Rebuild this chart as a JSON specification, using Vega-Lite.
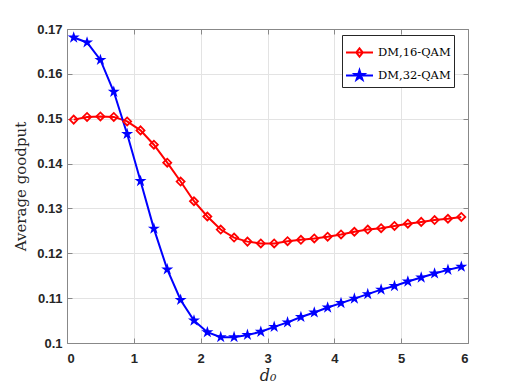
{
  "$schema": "https://vega.github.io/schema/vega-lite/v6.json",
  "width": 401,
  "height": 314,
  "autosize": {"type": "none"},
  "padding": {"left": 67, "top": 29, "right": 50, "bottom": 45},
  "background": "white",
  "config": {
    "view": {"stroke": "#888", "strokeWidth": 1},
    "axis": {"domainColor": "#888", "tickColor": "#888", "gridColor": "#e3e3e3", "gridWidth": 1, "labelFont": "Liberation Sans", "labelFontWeight": "bold", "labelFontSize": 13, "labelColor": "#262626", "titleFont": "DejaVu Serif", "titleFontWeight": "normal", "titleFontSize": 15, "titleColor": "#262626"}
  },
  "data": {"values": [
    {"d": 0.1, "s": "DM,16-QAM", "g": 0.1498}, {"d": 0.3, "s": "DM,16-QAM", "g": 0.1504}, {"d": 0.5, "s": "DM,16-QAM", "g": 0.1505}, {"d": 0.7, "s": "DM,16-QAM", "g": 0.1504}, {"d": 0.9, "s": "DM,16-QAM", "g": 0.1494},
    {"d": 1.1, "s": "DM,16-QAM", "g": 0.1474}, {"d": 1.3, "s": "DM,16-QAM", "g": 0.1442}, {"d": 1.5, "s": "DM,16-QAM", "g": 0.1402}, {"d": 1.7, "s": "DM,16-QAM", "g": 0.1360}, {"d": 1.9, "s": "DM,16-QAM", "g": 0.1316},
    {"d": 2.1, "s": "DM,16-QAM", "g": 0.1282}, {"d": 2.3, "s": "DM,16-QAM", "g": 0.1253}, {"d": 2.5, "s": "DM,16-QAM", "g": 0.1235}, {"d": 2.7, "s": "DM,16-QAM", "g": 0.1226}, {"d": 2.9, "s": "DM,16-QAM", "g": 0.1222},
    {"d": 3.1, "s": "DM,16-QAM", "g": 0.1222}, {"d": 3.3, "s": "DM,16-QAM", "g": 0.1227}, {"d": 3.5, "s": "DM,16-QAM", "g": 0.1230}, {"d": 3.7, "s": "DM,16-QAM", "g": 0.1233}, {"d": 3.9, "s": "DM,16-QAM", "g": 0.1237},
    {"d": 4.1, "s": "DM,16-QAM", "g": 0.1242}, {"d": 4.3, "s": "DM,16-QAM", "g": 0.1248}, {"d": 4.5, "s": "DM,16-QAM", "g": 0.1253}, {"d": 4.7, "s": "DM,16-QAM", "g": 0.1256}, {"d": 4.9, "s": "DM,16-QAM", "g": 0.1261},
    {"d": 5.1, "s": "DM,16-QAM", "g": 0.1266}, {"d": 5.3, "s": "DM,16-QAM", "g": 0.1270}, {"d": 5.5, "s": "DM,16-QAM", "g": 0.1274}, {"d": 5.7, "s": "DM,16-QAM", "g": 0.1277}, {"d": 5.9, "s": "DM,16-QAM", "g": 0.1281},
    {"d": 0.1, "s": "DM,32-QAM", "g": 0.1681}, {"d": 0.3, "s": "DM,32-QAM", "g": 0.1670}, {"d": 0.5, "s": "DM,32-QAM", "g": 0.1631}, {"d": 0.7, "s": "DM,32-QAM", "g": 0.1560}, {"d": 0.9, "s": "DM,32-QAM", "g": 0.1466},
    {"d": 1.1, "s": "DM,32-QAM", "g": 0.1361}, {"d": 1.3, "s": "DM,32-QAM", "g": 0.1255}, {"d": 1.5, "s": "DM,32-QAM", "g": 0.1164}, {"d": 1.7, "s": "DM,32-QAM", "g": 0.1096}, {"d": 1.9, "s": "DM,32-QAM", "g": 0.1050},
    {"d": 2.1, "s": "DM,32-QAM", "g": 0.1024}, {"d": 2.3, "s": "DM,32-QAM", "g": 0.1013}, {"d": 2.5, "s": "DM,32-QAM", "g": 0.1013}, {"d": 2.7, "s": "DM,32-QAM", "g": 0.1018}, {"d": 2.9, "s": "DM,32-QAM", "g": 0.1025},
    {"d": 3.1, "s": "DM,32-QAM", "g": 0.1036}, {"d": 3.3, "s": "DM,32-QAM", "g": 0.1046}, {"d": 3.5, "s": "DM,32-QAM", "g": 0.1058}, {"d": 3.7, "s": "DM,32-QAM", "g": 0.1068}, {"d": 3.9, "s": "DM,32-QAM", "g": 0.1079},
    {"d": 4.1, "s": "DM,32-QAM", "g": 0.1089}, {"d": 4.3, "s": "DM,32-QAM", "g": 0.1099}, {"d": 4.5, "s": "DM,32-QAM", "g": 0.1109}, {"d": 4.7, "s": "DM,32-QAM", "g": 0.1119}, {"d": 4.9, "s": "DM,32-QAM", "g": 0.1127},
    {"d": 5.1, "s": "DM,32-QAM", "g": 0.1137}, {"d": 5.3, "s": "DM,32-QAM", "g": 0.1146}, {"d": 5.5, "s": "DM,32-QAM", "g": 0.1155}, {"d": 5.7, "s": "DM,32-QAM", "g": 0.1163}, {"d": 5.9, "s": "DM,32-QAM", "g": 0.1170}
  ]},
  "resolve": {"axis": {"x": "independent", "y": "independent"}},
  "layer": [
    {
      "mark": {"type": "line", "strokeWidth": 2},
      "encoding": {
        "x": {"field": "d", "type": "quantitative", "scale": {"domain": [0, 6], "nice": false},
              "axis": {"values": [0,1,2,3,4,5,6], "format": "d", "tickSize": -5, "labelPadding": 14, "title": "d₀", "titleFontStyle": "italic", "titleFontSize": 16, "titlePadding": 2}},
        "y": {"field": "g", "type": "quantitative", "scale": {"domain": [0.1, 0.17], "nice": false, "zero": false},
              "axis": {"values": [0.1,0.11,0.12,0.13,0.14,0.15,0.16,0.17], "format": ".2~f", "tickSize": -5, "labelPadding": 10, "title": "Average goodput", "titlePadding": 8}},
        "color": {"field": "s", "type": "nominal", "scale": {"domain": ["DM,16-QAM", "DM,32-QAM"], "range": ["#ff0000", "#0000ff"]},
          "legend": {"title": null, "orient": "none", "legendX": 275, "legendY": 6, "fillColor": "white", "strokeColor": "#262626", "padding": 3, "labelFont": "DejaVu Serif", "labelFontSize": 11.5, "labelColor": "#000", "labelOffset": 4, "rowPadding": -10, "symbolSize": 729, "symbolStrokeWidth": 2,
            "encode": {
              "symbols": {"update": {
              "shape": {"signal": "datum.value === 'DM,16-QAM' ? 'M-1,0H1M0,-0.3L0.24,0L0,0.3L-0.24,0Z' : 'M-1,0H1M0,-0.38L0.084,-0.117L0.354,-0.117L0.135,0.044L0.219,0.301L0,0.142L-0.219,0.301L-0.135,0.044L-0.354,-0.117L-0.084,-0.117Z'"},
              "fill": {"signal": "datum.value === 'DM,16-QAM' ? 'white' : '#0000ff'"},
              "fillOpacity": {"value": 1},
              "stroke": {"signal": "datum.value === 'DM,16-QAM' ? '#ff0000' : '#0000ff'"},
              "strokeWidth": {"value": 2}
            }}}}}
      }
    },
    {
      "transform": [{"filter": "datum.s === 'DM,16-QAM'"}],
      "mark": {"type": "point", "shape": "diamond", "filled": false, "size": 64, "strokeWidth": 1.8, "color": "#ff0000", "opacity": 1},
      "encoding": {
        "x": {"field": "d", "type": "quantitative", "axis": {"orient": "top", "values": [0,1,2,3,4,5,6], "labels": false, "tickSize": -5, "grid": false, "title": null}},
        "y": {"field": "g", "type": "quantitative", "axis": {"orient": "right", "values": [0.1,0.11,0.12,0.13,0.14,0.15,0.16,0.17], "labels": false, "tickSize": -5, "grid": false, "title": null}}
      }
    },
    {
      "transform": [{"filter": "datum.s === 'DM,32-QAM'"}],
      "mark": {"type": "point", "shape": "M0,-1L0.2245,-0.309L0.951,-0.309L0.363,0.118L0.588,0.809L0,0.382L-0.588,0.809L-0.363,0.118L-0.951,-0.309L-0.2245,-0.309Z", "filled": true, "size": 160, "color": "#0000ff", "opacity": 1},
      "encoding": {
        "x": {"field": "d", "type": "quantitative", "axis": null},
        "y": {"field": "g", "type": "quantitative", "axis": null}
      }
    }
  ]
}
